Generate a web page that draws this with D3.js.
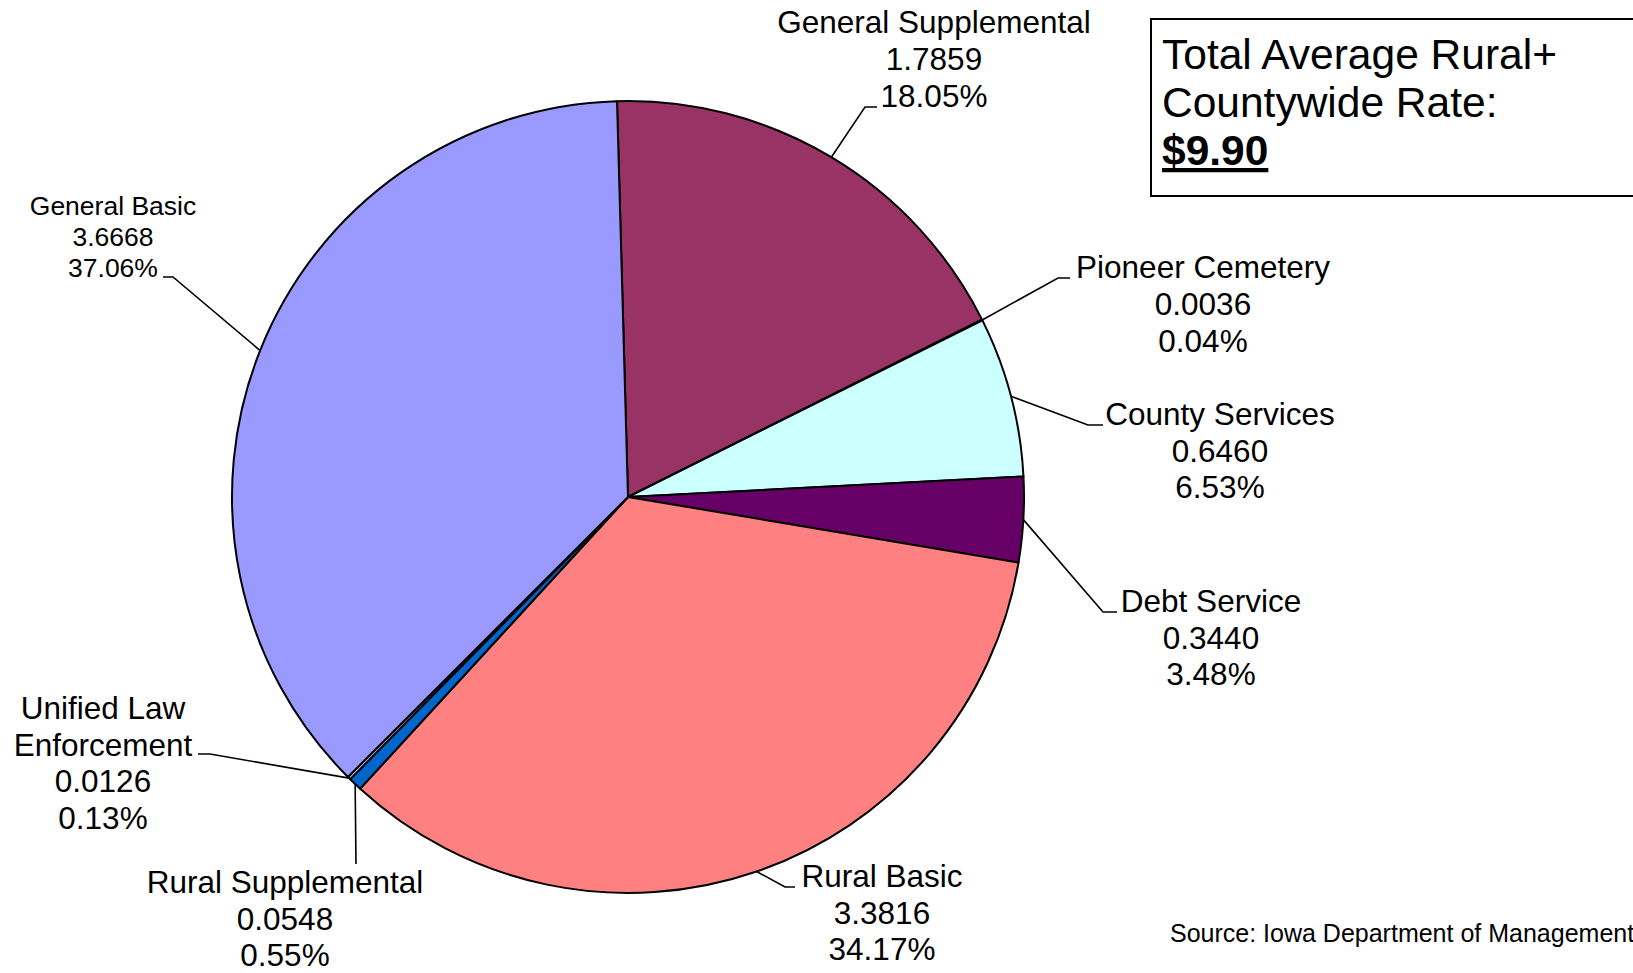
<!DOCTYPE html>
<html>
<head>
<meta charset="utf-8">
<script src="https://cdn.jsdelivr.net/npm/d3@7"></script>
<style>
  body { margin: 0; background: #fff; }
  svg { display: block; font-family: "Liberation Sans", Arial, sans-serif; }
</style>
</head>
<body>
<script>
// levy categories, clockwise from 12 o'clock
const categories = ["General Supplemental", "Pioneer Cemetery", "County Services", "Debt Service",
  "Rural Basic", "Rural Supplemental", "Unified Law Enforcement", "General Basic"];
const rates = [1.7859, 0.0036, 0.6460, 0.3440, 3.3816, 0.0548, 0.0126, 3.6668];
const colors = ["#993366", "#FFFFCC", "#CCFFFF", "#660066", "#FF8080", "#0066CC", "#CCCCFF", "#9999FF"];
const labelLines = {
  "Unified Law Enforcement": ["Unified Law", "Enforcement"]
};
const totalText = ["Total Average Rural+", "Countywide Rate:"];
const totalValue = "$9.90";
const sourceText = "Source: Iowa Department of Management";

// label placement (layout only)
const layout = {
  "General Supplemental":    {x: 934,  y: 33,  dy: 37,   fs: 31.5, elbow: [865, 107], end: [877, 107]},
  "Pioneer Cemetery":        {x: 1203, y: 278, dy: 37,   fs: 31.5, elbow: [1058, 278], end: [1070, 278]},
  "County Services":         {x: 1220, y: 425, dy: 36.5, fs: 31.5, elbow: [1088, 425], end: [1103, 425]},
  "Debt Service":            {x: 1211, y: 612, dy: 36.5, fs: 31.5, elbow: [1103, 612], end: [1117, 612]},
  "Rural Basic":             {x: 882,  y: 887, dy: 36.5, fs: 31.5, elbow: [785, 887], end: [795, 887]},
  "Rural Supplemental":      {x: 285,  y: 893, dy: 36.5, fs: 31.5, elbow: [356, 864], end: [356, 864]},
  "Unified Law Enforcement": {x: 103,  y: 719, dy: 36.5, fs: 31.5, elbow: [210, 754], end: [198, 754]},
  "General Basic":           {x: 113,  y: 215, dy: 31,   fs: 26.5, elbow: [173, 277], end: [163, 277]}
};

const W = 1633, H = 973;
const cx = 628, cy = 497, r = 396;
const start = -1.59 * Math.PI / 180;

const svg = d3.select('body').append('svg')
  .attr('width', W).attr('height', H);

const total = d3.sum(rates);
const data = categories.map((c, i) => ({name: c, value: rates[i], color: colors[i]}));

const pie = d3.pie().sort(null).value(d => d.value)
  .startAngle(start).endAngle(start + 2 * Math.PI);
const arc = d3.arc().innerRadius(0).outerRadius(r);
const arcs = pie(data);

const g = svg.append('g').attr('transform', `translate(${cx},${cy})`);
g.selectAll('path')
  .data(arcs)
  .enter().append('path')
  .attr('d', arc)
  .attr('fill', d => d.data.color)
  .attr('stroke', '#000')
  .attr('stroke-width', 2)
  .attr('stroke-linejoin', 'round');

// leader lines + labels
const fmtPct = d3.format('.2%');
const fmtVal = d3.format('.4f');
arcs.forEach(d => {
  const L = layout[d.data.name];
  const a = (d.startAngle + d.endAngle) / 2;
  const p0 = [cx + r * Math.sin(a), cy - r * Math.cos(a)];
  svg.append('path')
    .attr('d', d3.line()([p0, L.elbow, L.end]))
    .attr('fill', 'none')
    .attr('stroke', '#000')
    .attr('stroke-width', 1.6);

  const lines = (labelLines[d.data.name] || [d.data.name])
    .concat([fmtVal(d.data.value), fmtPct(d.data.value / total)]);
  const t = svg.append('text')
    .attr('text-anchor', 'middle')
    .attr('font-size', L.fs)
    .attr('fill', '#000');
  lines.forEach((s, i) => {
    t.append('tspan').attr('x', L.x).attr('y', L.y + i * L.dy).text(s);
  });
});

// total box
svg.append('rect')
  .attr('x', 1151).attr('y', 19)
  .attr('width', 520).attr('height', 177)
  .attr('fill', '#fff').attr('stroke', '#000').attr('stroke-width', 2);
const tb = svg.append('text').attr('font-size', 42.5).attr('fill', '#000');
totalText.forEach((s, i) => {
  tb.append('tspan').attr('x', 1162).attr('y', 69 + i * 48).text(s);
});
tb.append('tspan').attr('x', 1162).attr('y', 165)
  .attr('font-weight', 'bold')
  .style('text-decoration', 'underline')
  .text(totalValue);

svg.append('text')
  .attr('x', 1170).attr('y', 942)
  .attr('font-size', 25)
  .attr('fill', '#000')
  .text(sourceText);
</script>
</body>
</html>
